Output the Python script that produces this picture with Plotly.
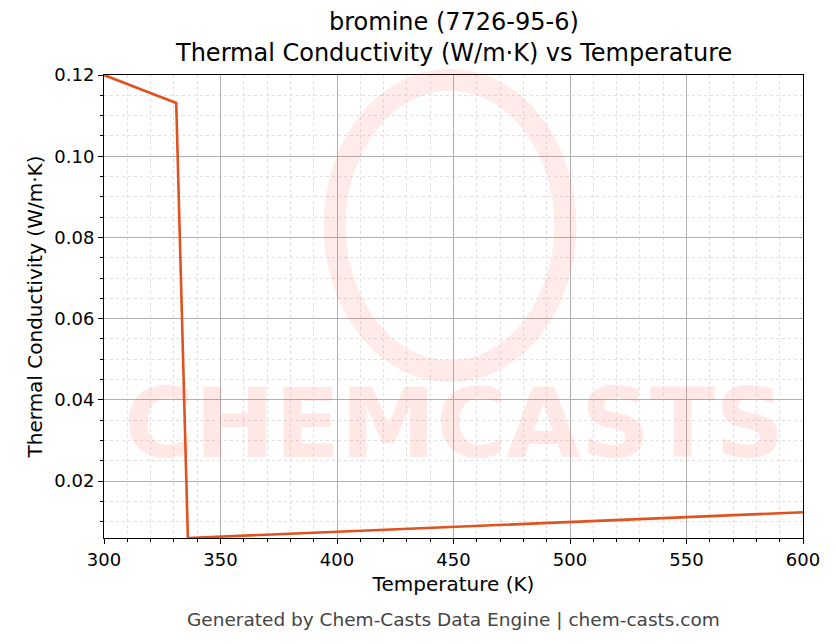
import plotly.graph_objects as go

temps = [300, 331, 336, 600]
kvals = [0.1200, 0.1131, 0.0060, 0.01235]

fig = go.Figure()
fig.add_trace(go.Scatter(x=temps, y=kvals, mode="lines",
                         line=dict(color="#E0521F", width=2.6), showlegend=False))

# watermark
fig.add_annotation(x=0.5, y=0.12, xref="paper", yref="paper", text="<b>CHEMCASTS</b>",
                   showarrow=False, font=dict(size=96, color="rgba(255,90,70,0.14)", family="DejaVu Sans"))
fig.add_shape(type="circle", xref="paper", yref="paper", x0=0.33, x1=0.66, y0=0.36, y1=0.99,
              line=dict(color="rgba(255,90,70,0.12)", width=22))

fig.update_layout(
    width=836, height=644, paper_bgcolor="white", plot_bgcolor="white",
    margin=dict(l=96, r=41, t=67, b=114),
    font=dict(family="DejaVu Sans", size=15, color="black"),
)
for txt, yy in [("bromine (7726-95-6)", 1.114), ("Thermal Conductivity (W/m·K) vs Temperature", 1.047)]:
    fig.add_annotation(x=0.5, y=yy, xref="paper", yref="paper", text=txt, showarrow=False,
                       yanchor="middle", font=dict(size=24, color="black"))
axis_common = dict(showline=True, mirror=True, linecolor="black", linewidth=1,
                   ticks="outside", ticklen=5, tickcolor="black", tickfont=dict(size=18),
                   showgrid=True, gridcolor="#b0b0b0", gridwidth=0.8, zeroline=False)
fig.update_xaxes(range=[300, 600], dtick=50, title_text="Temperature (K)", title_standoff=8,
                 title_font=dict(size=20),
                 minor=dict(dtick=10, ticks="outside", ticklen=3, showgrid=True,
                            gridcolor="#e0e0e0", griddash="dot"),
                 **axis_common)
fig.update_yaxes(range=[0.006, 0.12], tick0=0, dtick=0.02, tickformat=".2f",
                 title_text="Thermal Conductivity (W/m·K)", title_standoff=6,
                 title_font=dict(size=20),
                 minor=dict(dtick=0.005, ticks="outside", ticklen=3, showgrid=True,
                            gridcolor="#e0e0e0", griddash="dot"),
                 **axis_common)
fig.add_annotation(x=0.5, y=-0.15, xref="paper", yref="paper", showarrow=False,
                   text="Generated by Chem-Casts Data Engine | chem-casts.com",
                   font=dict(size=18.5, color="#444"), yanchor="top")
fig.write_html("out.html")
